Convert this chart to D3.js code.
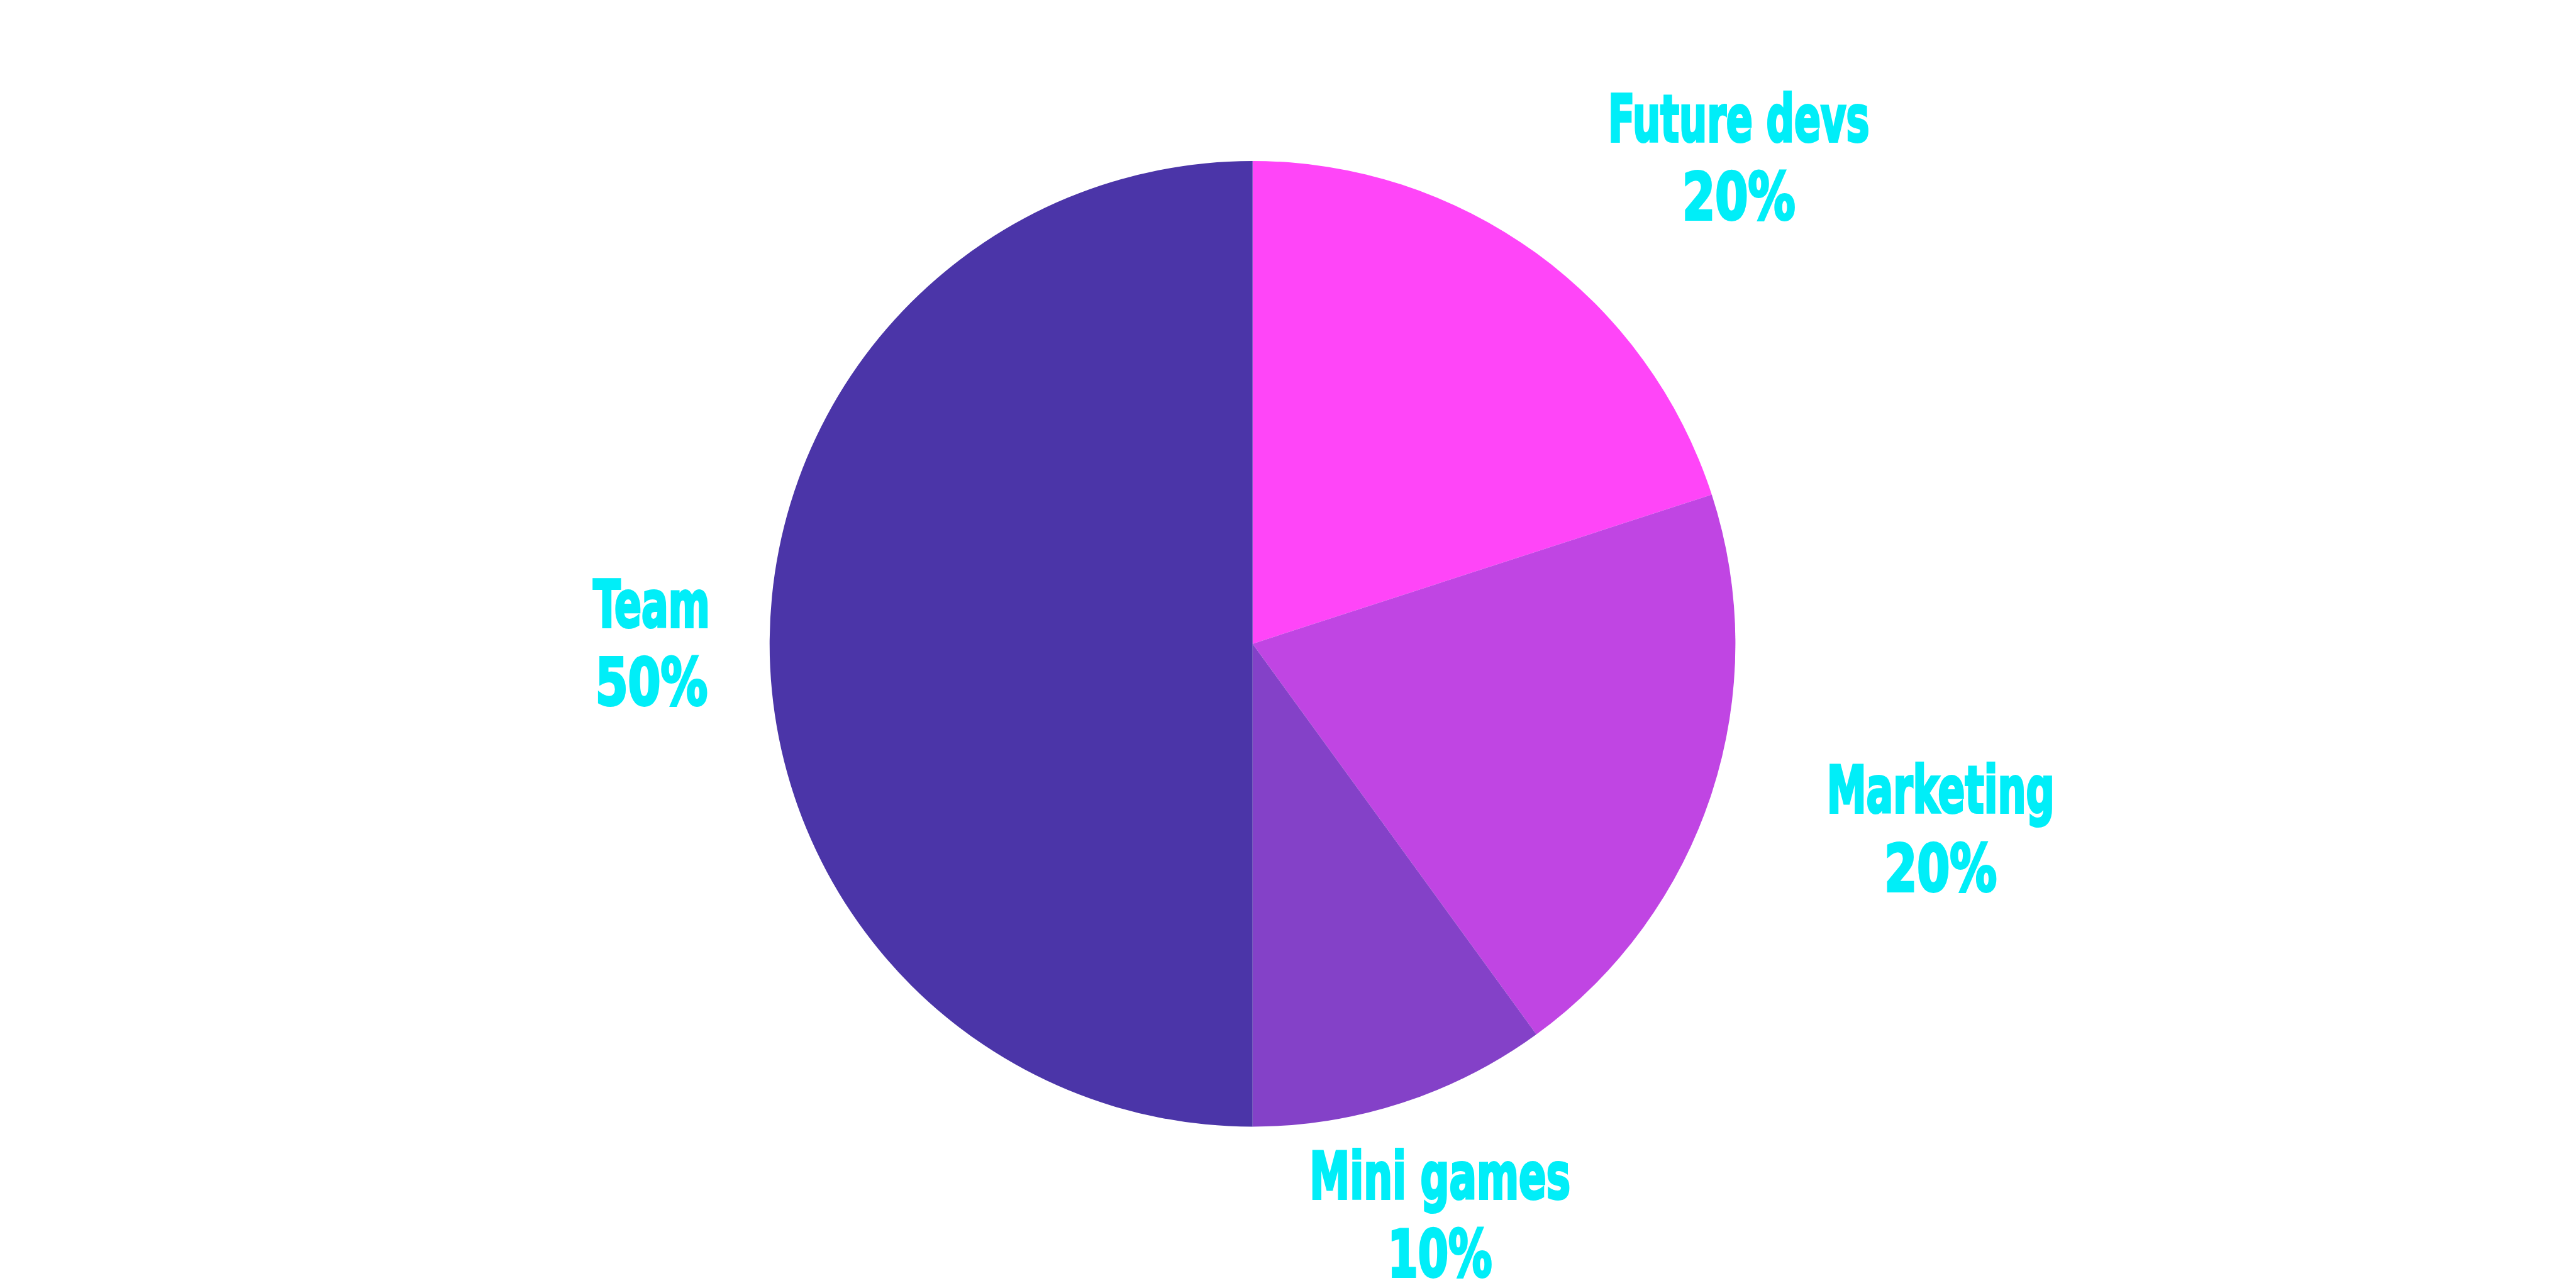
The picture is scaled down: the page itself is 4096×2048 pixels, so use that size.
<!DOCTYPE html>
<html>
<head>
<meta charset="utf-8">
<script src="https://cdn.jsdelivr.net/npm/d3@7"></script>
<style>
  html, body { margin: 0; padding: 0; background: #ffffff; }
  svg { display: block; }
</style>
</head>
<body>
<script>
// ---- data ----
const categories = ["Future devs", "Marketing", "Mini games", "Team"];
const values = [20, 20, 10, 50];
const valueLabels = ["20%", "20%", "10%", "50%"];
const colors = ["#FF45F8", "#C045E3", "#8441C8", "#4B35A8"];

// ---- layout (reference px scaled by s) ----
const W = 4096, H = 2048;
const s = 4096 / 6912;
const cx = 3361 * s, cy = 1727.5 * s, R = 1295.5 * s;

// label block centres relative to pie centre, in radius units
const labelOffsets = [[1.007, -1.010], [1.425, 0.381], [0.388, 1.180], [-1.245, -0.004]];
// text widths (reference px) for line 1 and line 2
const labelWidths = [[701, 303], [611, 302], [700, 280], [313, 301]];

const svg = d3.select("body").append("svg")
  .attr("width", W).attr("height", H)
  .attr("viewBox", `0 0 ${W} ${H}`);

svg.append("rect").attr("width", W).attr("height", H).attr("fill", "#ffffff");

const pie = d3.pie().sort(null).value(d => d).startAngle(0).endAngle(2 * Math.PI);
const arcs = pie(values);
const arc = d3.arc().innerRadius(0).outerRadius(R);

const color = d3.scaleOrdinal().domain(categories).range(colors);

const g = svg.append("g").attr("transform", `translate(${cx},${cy})`);
g.selectAll("path.slice")
  .data(arcs)
  .join("path")
  .attr("class", "slice")
  .attr("d", arc)
  .attr("fill", (d, i) => color(categories[i]));

// labels
const fontSize = 104;
const capH = 130 * s, lineGap = 210 * s;
const labels = svg.append("g")
  .attr("font-family", "'Liberation Sans Narrow', 'DejaVu Sans Condensed', 'Liberation Sans', sans-serif")
  .attr("font-weight", "bold")
  .attr("font-size", fontSize)
  .attr("fill", "#00EEF8")
  .attr("stroke", "#00EEF8")
  .attr("stroke-width", 4)
  .attr("stroke-linejoin", "miter")
  .attr("text-anchor", "start");

categories.forEach((cat, i) => {
  const bx = cx + labelOffsets[i][0] * R;
  const by = cy + labelOffsets[i][1] * R;
  const b1 = by - (lineGap + capH) / 2 + capH;
  const w1 = labelWidths[i][0] * s, w2 = labelWidths[i][1] * s;
  labels.append("text")
    .attr("x", bx - w1 / 2).attr("y", b1)
    .attr("textLength", w1)
    .attr("lengthAdjust", "spacingAndGlyphs")
    .text(cat);
  labels.append("text")
    .attr("x", bx - w2 / 2).attr("y", b1 + lineGap)
    .attr("textLength", w2)
    .attr("lengthAdjust", "spacingAndGlyphs")
    .text(valueLabels[i]);
});
</script>
</body>
</html>
